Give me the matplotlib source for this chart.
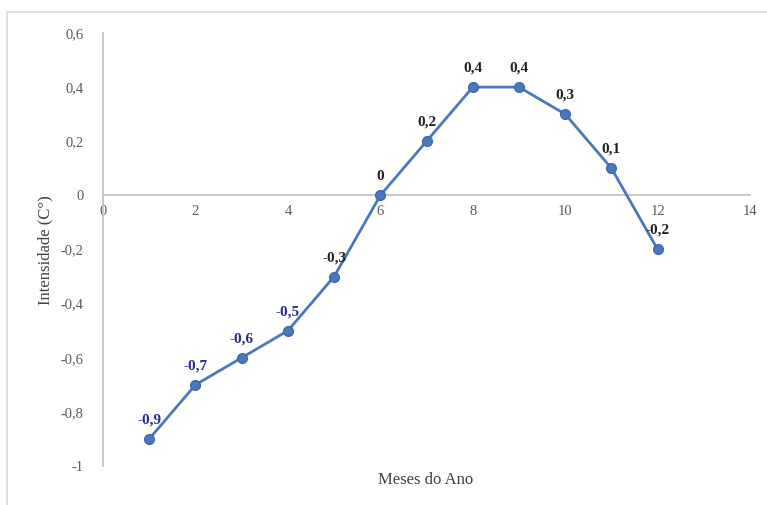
import matplotlib.pyplot as plt
from matplotlib.patches import Rectangle

# Monthly intensity values
months = [1, 2, 3, 4, 5, 6, 7, 8, 9, 10, 11, 12]
intensity = [-0.9, -0.7, -0.6, -0.5, -0.3, 0.0, 0.2, 0.4, 0.4, 0.3, 0.1, -0.2]
point_labels = ['-0,9', '-0,7', '-0,6', '-0,5', '-0,3', '0', '0,2', '0,4', '0,4', '0,3', '0,1', '-0,2']
label_colors = ['#2b2b8c', '#2b2b8c', '#2b2b8c', '#2b2b8c', '#222222', '#222222',
                '#222222', '#222222', '#222222', '#222222', '#222222', '#222222']

x_ticks = [0, 2, 4, 6, 8, 10, 12, 14]
y_ticks = [0.6, 0.4, 0.2, 0.0, -0.2, -0.4, -0.6, -0.8, -1.0]
y_tick_labels = ['0,6', '0,4', '0,2', '0', '-0,2', '-0,4', '-0,6', '-0,8', '-1']

plt.rcParams['font.family'] = 'Liberation Serif'

fig = plt.figure(figsize=(7.67, 5.05), dpi=100)
ax = fig.add_axes([0.1343, 0.0772, 0.8437, 0.8575])

# light frame around the chart area
fig.patches.append(Rectangle((7 / 767, -0.05), 1.2, 1 - 12 / 505 + 0.05,
                             transform=fig.transFigure, fill=False,
                             edgecolor='#d9d9d9', linewidth=1.2))

ax.plot(months, intensity, color='#4a78bd', linewidth=2, marker='o',
        markersize=7, markerfacecolor='#4a78bd', markeredgecolor='#3f68a8', zorder=3)

for mx, my, txt, col in zip(months, intensity, point_labels, label_colors):
    ax.annotate(txt, (mx, my), xytext=(0, 9), textcoords='offset points',
                ha='center', va='bottom', fontsize=11, fontweight='bold', color=col)

ax.set_xlim(0, 14)
ax.set_ylim(-1, 0.6)
ax.set_xticks(x_ticks)
ax.set_xticklabels([str(t) for t in x_ticks])
ax.set_yticks(y_ticks)
ax.set_yticklabels(y_tick_labels)

ax.spines['left'].set_position(('data', 0))
ax.spines['bottom'].set_position(('data', 0))
ax.spines['top'].set_visible(False)
ax.spines['right'].set_visible(False)
for s in ('left', 'bottom'):
    ax.spines[s].set_color('#bfbfbf')
    ax.spines[s].set_linewidth(1.2)

ax.tick_params(axis='both', length=0, labelsize=10.5, labelcolor='#595959')
ax.tick_params(axis='x', pad=7)
ax.tick_params(axis='y', pad=14)

fig.text(0.0587, 0.505, 'Intensidade (C°)', rotation=90, ha='center', va='center',
         fontsize=12, color='#404040')
fig.text(0.555, 0.05, 'Meses do Ano', ha='center', va='center',
         fontsize=12, color='#404040')

fig.savefig('out.png', dpi=100)
